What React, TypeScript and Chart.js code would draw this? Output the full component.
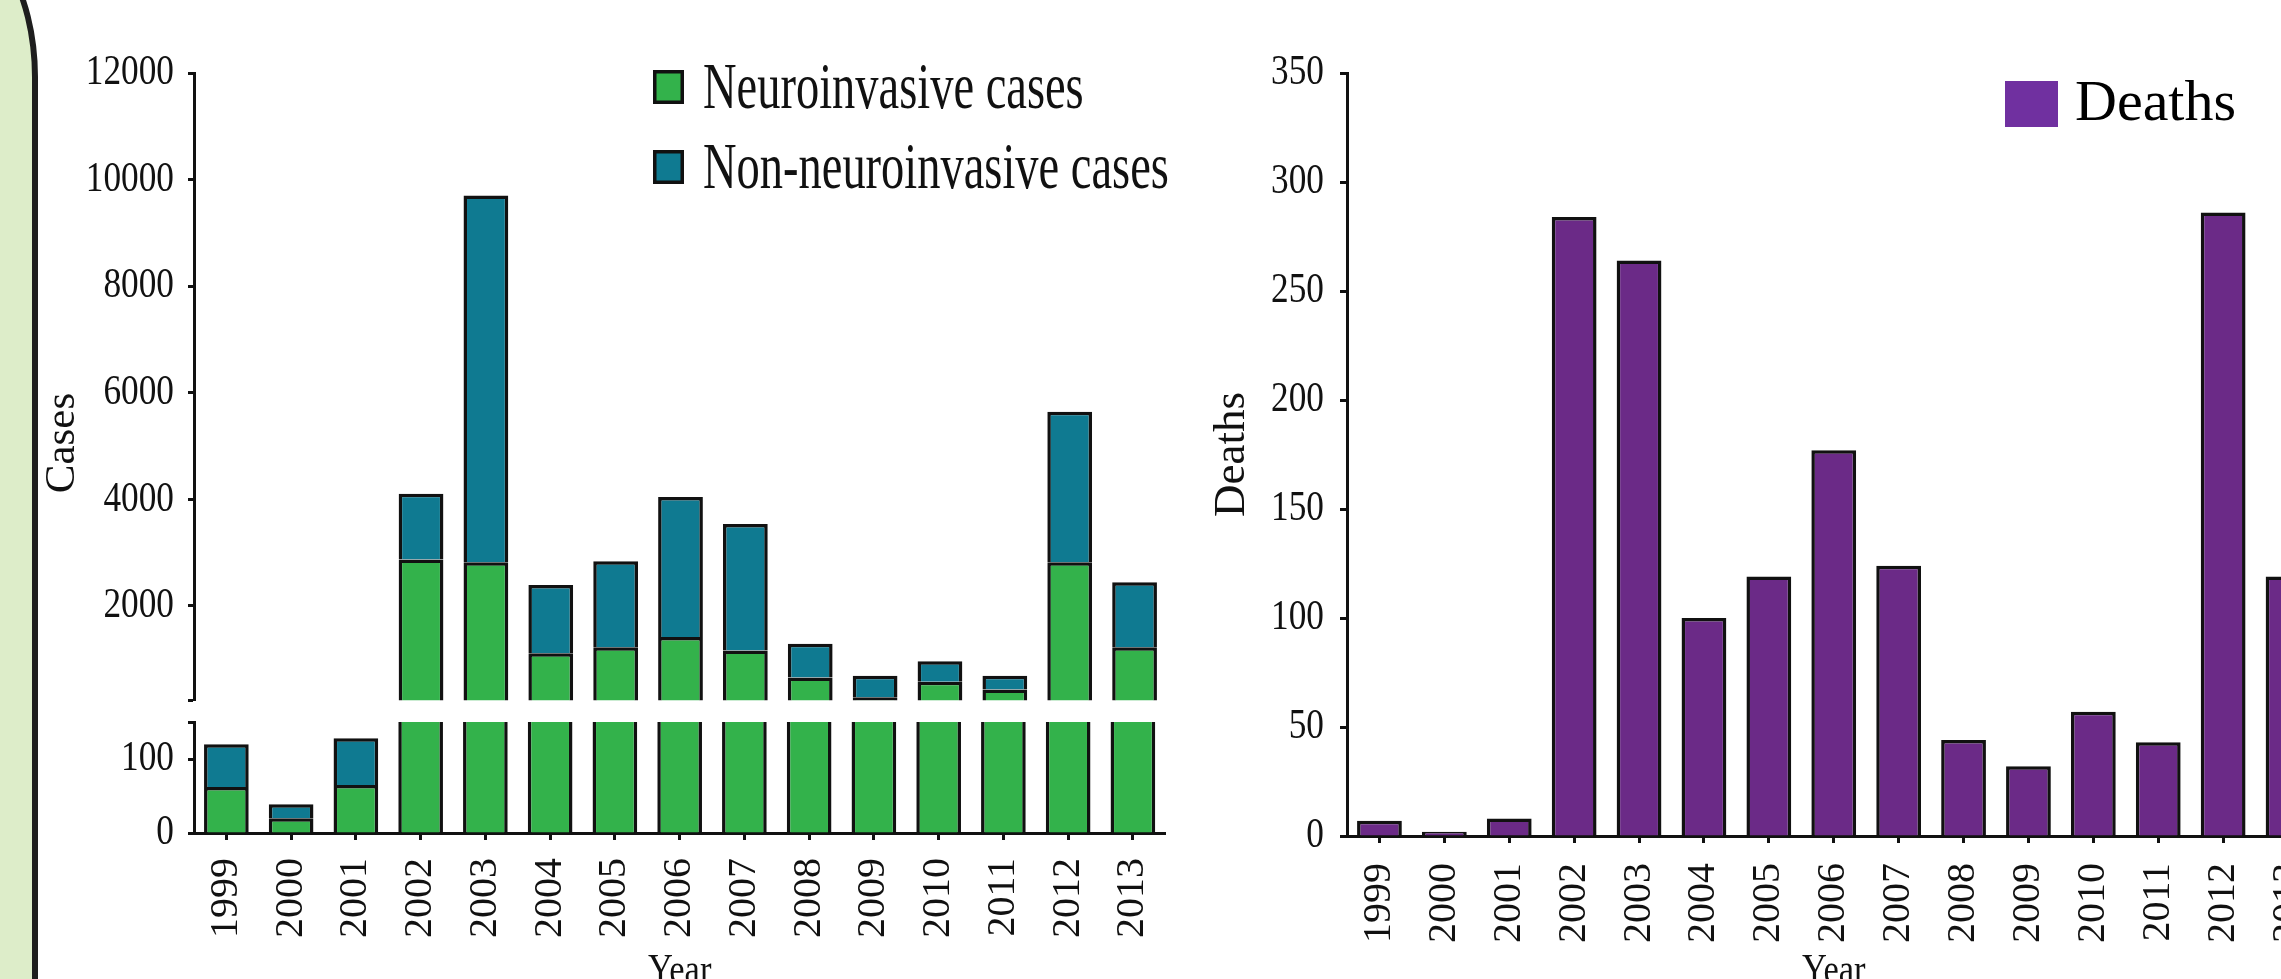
import React, { useEffect, useRef } from 'react';
import { Chart, registerables } from 'chart.js';

Chart.register(...registerables);

// ---------------- data ----------------
const years = ['1999', '2000', '2001', '2002', '2003', '2004', '2005', '2006', '2007', '2008', '2009', '2010', '2011', '2012', '2013'];
const neuroinvasive = [62, 20, 65, 2870, 2820, 1110, 1223, 1418, 1161, 655, 287, 578, 433, 2820, 1223];
const nonNeuroinvasive = [58, 19, 63, 1233, 6880, 1284, 1616, 2623, 2374, 632, 400, 381, 254, 2825, 1222];
const deaths = [7, 2, 8, 284, 264, 100, 119, 177, 124, 44, 32, 57, 43, 286, 119];

const casesUpperTicks = [2000, 4000, 6000, 8000, 10000, 12000];
const casesUpperBreak = 230;
const casesLowerTicks = [0, 100];
const casesLowerBreak = 150;
const deathsTicks = [0, 50, 100, 150, 200, 250, 300, 350];

// ---------------- styles ----------------
const FONT = '"Liberation Serif", "Times New Roman", serif';
const GREEN = '#33b24b';
const TEAL = '#0f7a91';
const PURPLE = '#6b2a87';
const LEGEND_PURPLE = '#7030a0';
const INK = '#111111';

const condensePlugin = (sx: number) => ({
  id: 'condenseText',
  beforeInit(chart: any) {
    const ctx: any = chart.ctx;
    if (ctx.__condensed) return;
    ctx.__condensed = true;
    const orig = ctx.fillText.bind(ctx);
    ctx.fillText = (text: any, x: number, y: number, maxWidth?: number) => {
      const m = ctx.getTransform();
      const upright = Math.abs(m.b) < 1e-6 && Math.abs(m.c) < 1e-6;
      if (upright && /^(\d+|Year)$/.test(String(text))) {
        ctx.save();
        ctx.translate(x, y);
        ctx.scale(sx, 1);
        orig(text, 0, 0);
        ctx.restore();
      } else if (maxWidth !== undefined && maxWidth !== null) {
        orig(text, x, y, maxWidth);
      } else {
        orig(text, x, y);
      }
    };
  },
});

const casesLegendPlugin = {
  id: 'casesLegend',
  afterDraw(chart: any) {
    const ctx = chart.ctx;
    ctx.save();
    chart.data.datasets.forEach((ds: any, i: number) => {
      const y0 = 70 + i * 80;
      ctx.fillStyle = ds.backgroundColor;
      ctx.fillRect(653, y0, 31, 34);
      ctx.lineWidth = 3.5;
      ctx.strokeStyle = INK;
      ctx.strokeRect(654.75, y0 + 1.75, 27.5, 30.5);
      ctx.fillStyle = INK;
      ctx.font = `65px ${FONT}`;
      ctx.textAlign = 'left';
      ctx.textBaseline = 'alphabetic';
      ctx.save();
      ctx.translate(703, 108 + i * 80);
      ctx.scale(0.715, 1);
      ctx.fillText(ds.label, 0, 0);
      ctx.restore();
    });
    ctx.restore();
  },
};

const casesTitlePlugin = {
  id: 'casesTitle',
  afterDraw(chart: any) {
    const ctx = chart.ctx;
    ctx.save();
    ctx.translate(63, 443);
    ctx.rotate(-Math.PI / 2);
    ctx.fillStyle = INK;
    ctx.font = `43px ${FONT}`;
    ctx.textAlign = 'center';
    ctx.textBaseline = 'middle';
    ctx.fillText('Cases', 0, 0);
    ctx.restore();
  },
};

const deathsLegendPlugin = {
  id: 'deathsLegend',
  afterDraw(chart: any) {
    const ctx = chart.ctx;
    const ds = chart.data.datasets[0];
    ctx.save();
    ctx.fillStyle = LEGEND_PURPLE;
    ctx.fillRect(855, 81, 53, 46);
    ctx.fillStyle = '#000';
    ctx.font = `58px ${FONT}`;
    ctx.textAlign = 'left';
    ctx.textBaseline = 'alphabetic';
    ctx.fillText(ds.label, 925, 120);
    ctx.restore();
  },
};

const barStyle = {
  borderColor: INK,
  borderWidth: 3.5,
  borderSkipped: 'start',
  barPercentage: 0.69,
  categoryPercentage: 1,
  clip: 0,
  stack: 's',
};

const yTickFont = { family: FONT, size: 43 };
const xTickFont = { family: FONT, size: 40 };

function casesDatasets() {
  return [
    { label: 'Neuroinvasive cases', data: neuroinvasive, backgroundColor: GREEN, ...barStyle },
    { label: 'Non-neuroinvasive cases', data: nonNeuroinvasive, backgroundColor: TEAL, ...barStyle },
  ];
}

export default function App() {
  const upperRef = useRef<HTMLCanvasElement>(null);
  const lowerRef = useRef<HTMLCanvasElement>(null);
  const rightRef = useRef<HTMLCanvasElement>(null);

  useEffect(() => {
    const common: any = {
      animation: false,
      responsive: false,
      maintainAspectRatio: false,
      devicePixelRatio: 1,
      events: [],
      plugins: { legend: { display: false }, tooltip: { enabled: false } },
    };

    const upper = new Chart(upperRef.current as HTMLCanvasElement, {
      type: 'bar',
      data: { labels: years, datasets: casesDatasets() as any },
      options: {
        ...common,
        layout: { padding: { top: 73, bottom: 39, left: 0, right: 33 } },
        scales: {
          x: { stacked: true, display: false },
          y: {
            stacked: true,
            min: casesUpperBreak,
            max: 12000,
            afterFit: (s: any) => { s.width = 194; },
            afterBuildTicks: (s: any) => {
              s.ticks = [casesUpperBreak, ...casesUpperTicks].map((v) => ({ value: v }));
            },
            ticks: {
              callback: (v: any) => (casesUpperTicks.includes(Number(v)) ? String(v) : ''),
              font: yTickFont,
              color: INK,
              padding: 14,
            },
            grid: { drawOnChartArea: false, drawTicks: true, tickLength: 6, tickWidth: 3, tickColor: INK },
            border: { display: true, color: INK, width: 3 },
          },
        },
      } as any,
      plugins: [condensePlugin(0.82), casesLegendPlugin, casesTitlePlugin],
    });

    const lower = new Chart(lowerRef.current as HTMLCanvasElement, {
      type: 'bar',
      data: { labels: years, datasets: casesDatasets() as any },
      options: {
        ...common,
        layout: { padding: { top: 42, bottom: 0, left: 0, right: 33 } },
        scales: {
          x: {
            stacked: true,
            afterFit: (s: any) => { s.height = 167; },
            ticks: { font: xTickFont, color: INK, minRotation: 90, maxRotation: 90, padding: 18, autoSkip: false },
            grid: { offset: false, drawOnChartArea: false, drawTicks: true, tickLength: 7, tickWidth: 3, tickColor: INK },
            border: { display: true, color: INK, width: 3 },
            title: { display: true, text: 'Year', font: { family: FONT, size: 42 }, color: INK, padding: { top: 0, bottom: 3 } },
          },
          y: {
            stacked: true,
            min: 0,
            max: casesLowerBreak,
            afterFit: (s: any) => { s.width = 194; },
            afterBuildTicks: (s: any) => {
              s.ticks = [...casesLowerTicks, casesLowerBreak].map((v) => ({ value: v }));
            },
            ticks: {
              callback: (v: any) => (casesLowerTicks.includes(Number(v)) ? String(v) : ''),
              font: yTickFont,
              color: INK,
              padding: 14,
            },
            grid: { drawOnChartArea: false, drawTicks: true, tickLength: 6, tickWidth: 3, tickColor: INK },
            border: { display: true, color: INK, width: 3 },
          },
        },
      } as any,
      plugins: [condensePlugin(0.82)],
    });

    const right = new Chart(rightRef.current as HTMLCanvasElement, {
      type: 'bar',
      data: {
        labels: years,
        datasets: [{ label: 'Deaths', data: deaths, backgroundColor: PURPLE, ...barStyle } as any],
      },
      options: {
        ...common,
        layout: { padding: { top: 73, bottom: 0, left: 0, right: 39.5 } },
        scales: {
          x: {
            afterFit: (s: any) => { s.height = 164; },
            ticks: { font: xTickFont, color: INK, minRotation: 90, maxRotation: 90, padding: 20, autoSkip: false },
            grid: { offset: false, drawOnChartArea: false, drawTicks: true, tickLength: 7, tickWidth: 3, tickColor: INK },
            border: { display: true, color: INK, width: 3 },
            title: { display: true, text: 'Year', font: { family: FONT, size: 42 }, color: INK, padding: { top: 0, bottom: 3 } },
          },
          y: {
            min: 0,
            max: 350,
            afterFit: (s: any) => { s.width = 197; },
            afterBuildTicks: (s: any) => {
              s.ticks = deathsTicks.map((v) => ({ value: v }));
            },
            ticks: { font: yTickFont, color: INK, padding: 16 },
            grid: { drawOnChartArea: false, drawTicks: true, tickLength: 7, tickWidth: 3, tickColor: INK },
            border: { display: true, color: INK, width: 3 },
            title: { display: true, text: 'Deaths', font: { family: FONT, size: 45 }, color: INK, padding: { top: 55, bottom: 0 } },
          },
        },
      } as any,
      plugins: [condensePlugin(0.82), deathsLegendPlugin],
    });

    return () => {
      upper.destroy();
      lower.destroy();
      right.destroy();
    };
  }, []);

  return (
    <div style={{ position: 'fixed', left: 0, top: 0, width: '100vw', height: '100vh', overflow: 'hidden', background: '#ffffff' }}>
      <div
        style={{
          position: 'absolute',
          left: -200,
          top: -83,
          width: 238,
          height: 1200,
          boxSizing: 'border-box',
          background: '#ddedc9',
          border: '6px solid #1e1e1e',
          borderTopRightRadius: '97px 160px',
        }}
      />
      <canvas ref={upperRef} width={1200} height={740} style={{ position: 'absolute', left: 0, top: 0 }} />
      <canvas ref={lowerRef} width={1200} height={320} style={{ position: 'absolute', left: 0, top: 680 }} />
      <canvas ref={rightRef} width={1210} height={1000} style={{ position: 'absolute', left: 1150, top: 0 }} />
    </div>
  );
}
